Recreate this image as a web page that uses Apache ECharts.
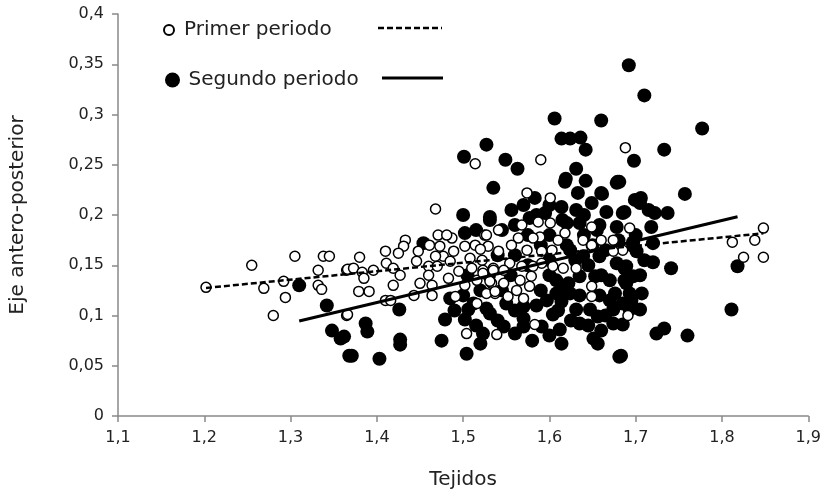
<!DOCTYPE html>
<html>
<head>
<meta charset="utf-8">
<script src="https://cdn.jsdelivr.net/npm/echarts@6/dist/echarts.min.js"></script>
<style>html,body{margin:0;padding:0;background:#fff;}#chart{width:824px;height:497px;}</style>
</head>
<body>
<div id="chart"></div>
<script>
// ---- data ----
const seriesNames = ['Primer periodo', 'Segundo periodo'];
const axisNames = { x: 'Tejidos', y: 'Eje antero-posterior' };
const xRange = { min: 1.1, max: 1.9, step: 0.1 };
const yRange = { min: 0, max: 0.4, step: 0.05 };

const primerPoints = [
[1.202,0.128],[1.255,0.150],[1.305,0.159],[1.338,0.159],[1.345,0.159],[1.332,0.145],[1.269,0.127],[1.292,0.134],[1.294,0.118],[1.280,0.100],[1.332,0.130],[1.336,0.126],[1.365,0.145],[1.369,0.146],[1.365,0.100],
[1.693,0.187],[1.812,0.173],[1.838,0.175],[1.848,0.187],[1.825,0.158],[1.848,0.158],[1.691,0.100],
[1.688,0.267],[1.590,0.255],[1.574,0.222],[1.601,0.217],[1.514,0.251],
[1.468,0.206],[1.433,0.175],[1.431,0.169],[1.410,0.164],[1.425,0.162],[1.380,0.158],[1.411,0.152],[1.419,0.147],[1.366,0.146],[1.373,0.147],[1.383,0.143],[1.396,0.145],[1.385,0.137],[1.427,0.140],[1.379,0.124],[1.391,0.124],[1.419,0.130],[1.410,0.115],[1.416,0.115],[1.366,0.101],[1.448,0.164],[1.446,0.154],[1.461,0.170],[1.473,0.169],[1.471,0.180],[1.487,0.177],[1.481,0.180],[1.489,0.164],[1.502,0.169],[1.514,0.170],[1.525,0.180],[1.529,0.169],[1.477,0.159],[1.468,0.159],[1.460,0.149],[1.470,0.149],[1.485,0.154],[1.508,0.157],[1.522,0.155],[1.535,0.147],[1.495,0.144],[1.510,0.147],[1.523,0.145],[1.483,0.137],[1.460,0.140],[1.450,0.132],[1.464,0.130],[1.502,0.130],[1.516,0.135],[1.533,0.132],[1.537,0.122],[1.443,0.120],[1.464,0.120],[1.491,0.119],[1.516,0.112],[1.504,0.082],[1.527,0.122],
[1.587,0.193],[1.601,0.192],[1.568,0.190],[1.610,0.175],[1.618,0.182],[1.589,0.178],[1.581,0.177],[1.564,0.177],[1.556,0.170],[1.541,0.185],[1.527,0.180],[1.520,0.166],[1.541,0.164],[1.574,0.165],[1.591,0.164],[1.603,0.165],[1.649,0.188],[1.639,0.175],[1.649,0.170],[1.660,0.175],[1.674,0.175],[1.685,0.165],[1.674,0.164],[1.616,0.147],[1.631,0.147],[1.604,0.149],[1.591,0.152],[1.581,0.149],[1.568,0.149],[1.554,0.152],[1.535,0.145],[1.547,0.145],[1.523,0.142],[1.531,0.134],[1.547,0.132],[1.566,0.135],[1.579,0.139],[1.577,0.129],[1.537,0.124],[1.552,0.119],[1.570,0.117],[1.562,0.125],[1.649,0.129],[1.649,0.119],[1.583,0.091],[1.539,0.081]
];

const segundoPoints = [
[1.310,0.130],[1.342,0.110],[1.348,0.085],[1.358,0.077],[1.368,0.060],
[1.757,0.221],[1.705,0.212],[1.687,0.203],[1.722,0.202],[1.737,0.202],[1.718,0.188],[1.697,0.173],[1.720,0.172],[1.701,0.164],[1.720,0.153],[1.741,0.147],[1.687,0.147],[1.687,0.135],[1.707,0.122],[1.695,0.115],[1.705,0.106],[1.685,0.091],[1.733,0.087],[1.724,0.082],[1.760,0.080],[1.683,0.060],[1.818,0.149],[1.811,0.106],
[1.692,0.349],[1.710,0.319],[1.777,0.286],[1.733,0.265],[1.698,0.254],[1.681,0.233],[1.706,0.217],
[1.606,0.296],[1.660,0.294],[1.614,0.276],[1.624,0.276],[1.636,0.277],[1.642,0.265],[1.527,0.270],[1.549,0.255],[1.563,0.246],[1.631,0.246],[1.619,0.236],[1.642,0.234],[1.679,0.233],[1.535,0.227],[1.633,0.222],[1.661,0.221],[1.583,0.217],
[1.501,0.258],
[1.531,0.195],[1.502,0.182],[1.454,0.172],[1.426,0.106],[1.387,0.092],[1.389,0.084],[1.362,0.079],[1.427,0.076],[1.427,0.071],[1.475,0.075],[1.371,0.060],[1.403,0.057],[1.504,0.062],[1.479,0.096],[1.502,0.096],[1.506,0.106],[1.520,0.072],[1.523,0.082],[1.485,0.117],[1.512,0.112],[1.531,0.102],
[1.618,0.233],[1.660,0.222],[1.678,0.232],[1.699,0.215],[1.556,0.205],[1.595,0.202],[1.614,0.208],[1.631,0.205],[1.649,0.212],[1.666,0.203],[1.685,0.202],[1.531,0.198],[1.577,0.197],[1.620,0.192],[1.635,0.192],[1.658,0.190],[1.678,0.188],[1.697,0.169],[1.624,0.165],[1.639,0.159],[1.658,0.159],[1.678,0.152],[1.689,0.149],[1.697,0.139],[1.608,0.135],[1.622,0.132],[1.635,0.139],[1.653,0.139],[1.670,0.135],[1.689,0.132],[1.676,0.122],[1.693,0.122],[1.608,0.122],[1.624,0.122],[1.635,0.120],[1.658,0.120],[1.597,0.115],[1.527,0.107],[1.550,0.112],[1.570,0.109],[1.585,0.110],[1.614,0.114],[1.631,0.106],[1.647,0.106],[1.674,0.106],[1.693,0.106],[1.604,0.101],[1.656,0.099],[1.570,0.097],[1.547,0.089],[1.570,0.089],[1.591,0.089],[1.612,0.086],[1.635,0.092],[1.674,0.092],[1.560,0.082],[1.614,0.072],[1.651,0.077],[1.656,0.072],[1.681,0.059],
// partly hidden points inside the dense cloud
[1.545,0.185],[1.560,0.190],[1.575,0.180],[1.590,0.170],[1.560,0.160],[1.600,0.180],[1.615,0.195],[1.585,0.200],[1.600,0.155],[1.620,0.170],[1.640,0.180],[1.655,0.185],[1.665,0.165],[1.680,0.175],[1.645,0.150],[1.660,0.140],[1.600,0.140],[1.590,0.125],[1.575,0.150],[1.555,0.140],[1.545,0.125],[1.560,0.105],[1.610,0.105],[1.625,0.095],[1.645,0.090],[1.665,0.100],[1.660,0.085],[1.600,0.080],[1.580,0.075],[1.540,0.095],[1.515,0.090],[1.530,0.140],[1.540,0.160],[1.520,0.125],[1.505,0.140],[1.500,0.120],[1.490,0.105],[1.515,0.185],[1.500,0.200],[1.570,0.210],[1.600,0.210],[1.640,0.200],[1.650,0.170],[1.630,0.155],[1.615,0.125],[1.670,0.115],[1.685,0.112],[1.705,0.140],[1.710,0.155],[1.700,0.180],[1.715,0.205]
];

// trend lines (start and end points)
const primerTrend = [[1.202, 0.1274], [1.848, 0.1818]];
const segundoTrend = [[1.310, 0.0945], [1.818, 0.1983]];

// ---- chart ----
const FONT = 'DejaVu Sans';
const axisGrey = '#898989';
function comma(v) { return String(Math.round(v * 1000) / 1000).replace('.', ','); }

const chart = echarts.init(document.getElementById('chart'), null, { renderer: 'canvas' });
chart.setOption({
  animation: false,
  backgroundColor: '#fff',
  grid: { left: 117, right: 15, top: 14, bottom: 81, containLabel: false },
  xAxis: {
    type: 'value', min: xRange.min, max: xRange.max, interval: xRange.step,
    name: axisNames.x, nameLocation: 'middle', nameGap: 54,
    nameTextStyle: { fontFamily: FONT, fontSize: 20, color: '#222' },
    axisLine: { show: true, onZero: false, lineStyle: { color: axisGrey, width: 1.5 } },
    axisTick: { show: true, inside: false, length: 6, lineStyle: { color: axisGrey, width: 1.5 } },
    axisLabel: { formatter: comma, margin: 14, fontFamily: FONT, fontSize: 16, color: '#222' },
    splitLine: { show: false }
  },
  yAxis: {
    type: 'value', min: yRange.min, max: yRange.max, interval: yRange.step,
    name: axisNames.y, nameLocation: 'middle', nameGap: 90,
    nameTextStyle: { fontFamily: FONT, fontSize: 20, color: '#222' },
    axisLine: { show: true, lineStyle: { color: axisGrey, width: 1.5 } },
    axisTick: { show: true, inside: false, length: 6, lineStyle: { color: axisGrey, width: 1.5 } },
    axisLabel: { formatter: comma, margin: 14, fontFamily: FONT, fontSize: 16, color: '#222' },
    splitLine: { show: false }
  },
  legend: [
    { data: [seriesNames[0]], left: 163, top: 20, padding: 0, itemWidth: 20, itemHeight: 10,
      selectedMode: false, textStyle: { fontFamily: FONT, fontSize: 20, color: '#222' } },
    { data: [seriesNames[1]], left: 165, top: 70, padding: 0, itemWidth: 22, itemHeight: 15,
      selectedMode: false, textStyle: { fontFamily: FONT, fontSize: 20, color: '#222' } }
  ],
  graphic: [
    { type: 'line', shape: { x1: 378, y1: 28, x2: 442, y2: 28 }, style: { stroke: '#000', lineWidth: 2.5, lineDash: [6, 3] } },
    { type: 'line', shape: { x1: 382, y1: 78, x2: 443, y2: 78 }, style: { stroke: '#000', lineWidth: 3 } }
  ],
  series: [
    { name: seriesNames[1], type: 'scatter', data: segundoPoints, symbol: 'circle', symbolSize: 14,
      itemStyle: { color: '#000', opacity: 1 }, z: 2 },
    { name: seriesNames[0], type: 'scatter', data: primerPoints, symbol: 'circle', symbolSize: 10,
      itemStyle: { color: '#fff', borderColor: '#000', borderWidth: 1.5, opacity: 1 }, z: 3 },
    { name: 'trend1', type: 'line', data: primerTrend, symbol: 'none', silent: true,
      lineStyle: { color: '#000', width: 2.5, type: [6, 3] }, z: 4 },
    { name: 'trend2', type: 'line', data: segundoTrend, symbol: 'none', silent: true,
      lineStyle: { color: '#000', width: 3 }, z: 4 }
  ]
});
</script>
</body>
</html>
